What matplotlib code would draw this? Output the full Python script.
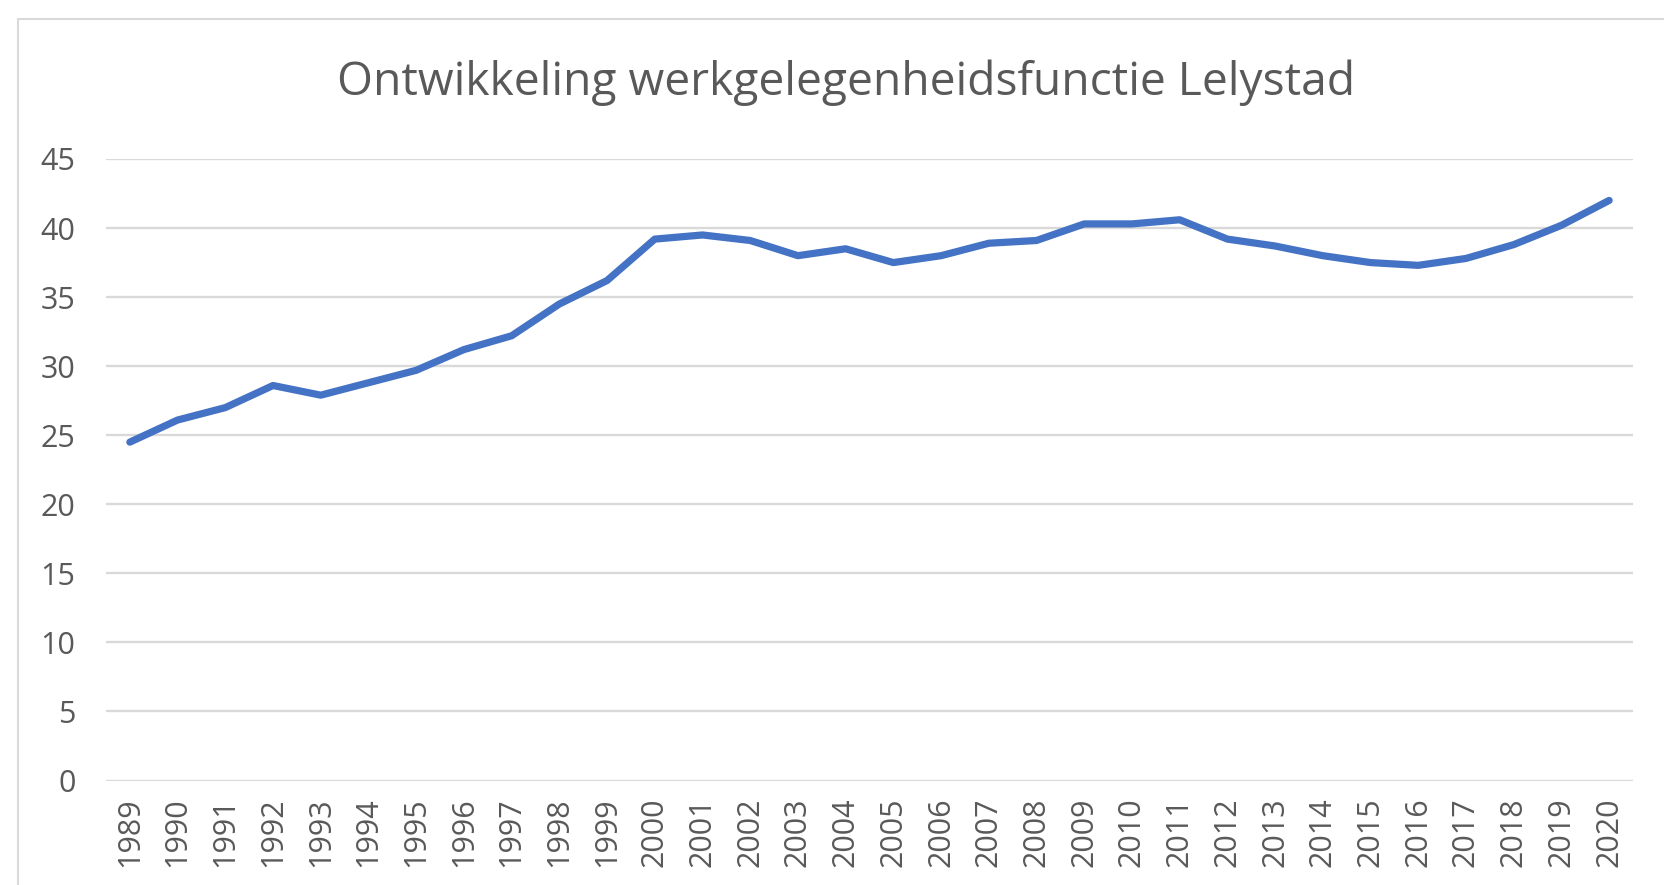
import matplotlib.pyplot as plt
from matplotlib.patches import Rectangle

# Gegevens
jaren = [str(j) for j in range(1989, 2021)]
banen = [24.5, 26.1, 27.0, 28.6, 27.9, 28.8, 29.7, 31.2, 32.2, 34.5,
         36.2, 39.2, 39.5, 39.1, 38.0, 38.5, 37.5, 38.0, 38.9, 39.1,
         40.3, 40.3, 40.6, 39.2, 38.7, 38.0, 37.5, 37.3, 37.8, 38.8,
         40.2, 42.0]
y_ticks = [0, 5, 10, 15, 20, 25, 30, 35, 40, 45]
titel = "Ontwikkeling werkgelegenheidsfunctie Lelystad"

plt.rcParams['font.family'] = ['Open Sans', 'DejaVu Sans']
grijs = "#595959"

fig = plt.figure(figsize=(16.65, 8.85), dpi=100)
# kader van de grafiek
fig.patches.append(Rectangle((18 / 1665, -0.1), 1.2, 1 - 19 / 885 + 0.1,
                             transform=fig.transFigure, fill=False,
                             edgecolor="#D9D9D9", linewidth=1.5))

ax = fig.add_axes([106 / 1665, 1 - 780.5 / 885, (1633 - 106) / 1665, (780.5 - 159) / 885])
x = list(range(len(jaren)))
ax.plot(x, banen, color="#4472C4", linewidth=5.2, solid_capstyle="round",
        solid_joinstyle="round", zorder=3)

ax.set_xlim(-0.5, len(jaren) - 0.5)
ax.set_ylim(0, 45)
ax.set_yticks(y_ticks)
ax.set_xticks(x)
ax.set_xticklabels(jaren, rotation=90)
ax.grid(axis="y", color="#D9D9D9", linewidth=1.7)
ax.set_axisbelow(True)
for s in ax.spines.values():
    s.set_visible(False)
ax.tick_params(axis="both", length=0, labelsize=22, labelcolor=grijs)
ax.tick_params(axis="y", pad=22)
ax.tick_params(axis="x", pad=12)

fig.text(0.508, 0.907, titel, ha="center", va="center", fontsize=33.2,
         color=grijs)

fig.savefig("out.png", dpi=100)
